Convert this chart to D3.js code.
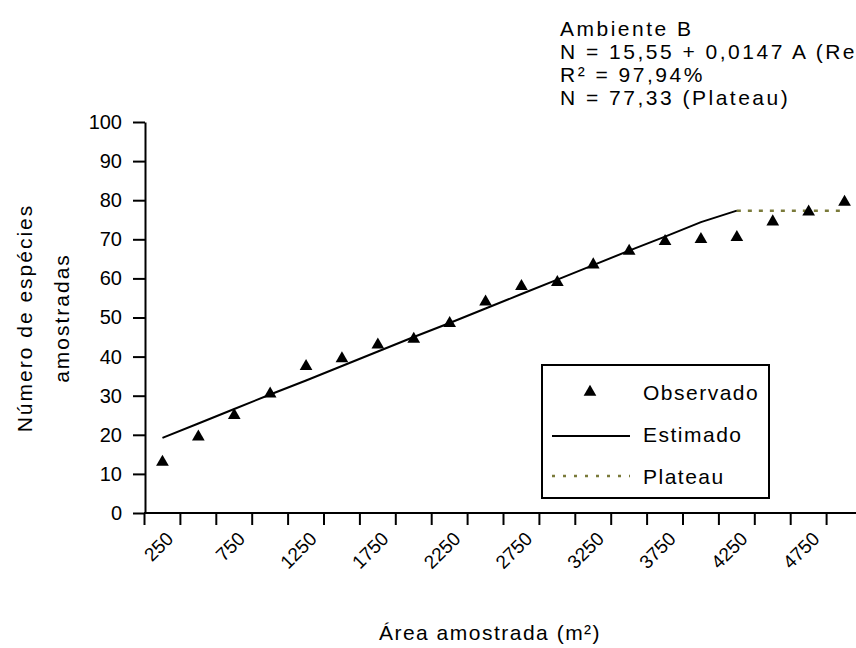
<!DOCTYPE html>
<html lang="pt">
<head>
<meta charset="utf-8">
<script src="https://d3js.org/d3.v7.min.js"></script>
<style>
  body { margin: 0; background: #fff; }
  svg { display: block; }
  text { font-family: "Liberation Sans", Arial, sans-serif; fill: #000; }
</style>
</head>
<body>
<div id="chart"></div>
<script>
// data
var categories = [250, 500, 750, 1000, 1250, 1500, 1750, 2000, 2250, 2500,
                  2750, 3000, 3250, 3500, 3750, 4000, 4250, 4500, 4750, 5000];
var tickLabels = ["250", "750", "1250", "1750", "2250", "2750", "3250", "3750", "4250", "4750"];
var observed = [13, 19.5, 25, 30.5, 37.5, 39.5, 43, 44.5, 48.5, 54,
                58, 59, 63.5, 67, 69.5, 70, 70.5, 74.5, 77, 79.5];
var estimatedCats = [250, 500, 750, 1000, 1250, 1500, 1750, 2000, 2250, 2500,
                     2750, 3000, 3250, 3500, 3750, 4000, 4250];
var estimated = [19.2, 22.9, 26.6, 30.3, 33.9, 37.6, 41.3, 45.0, 48.6, 52.3,
                 56.0, 59.7, 63.4, 67.1, 70.7, 74.4, 77.33];
var plateauCats = [4250, 4500, 4750, 5000];
var plateau = [77.33, 77.33, 77.33, 77.33];
var yTicks = [0, 10, 20, 30, 40, 50, 60, 70, 80, 90, 100];
var notes = ["Ambiente B", "N = 15,55 + 0,0147 A (Reta)", "R\u00b2 = 97,94%", "N = 77,33 (Plateau)"];

var width = 856, height = 648;
var svg = d3.select("#chart").append("svg")
    .attr("width", width)
    .attr("height", height);

var x = d3.scaleBand().domain(categories).range([144.5, 862.5]);
var y = d3.scaleLinear().domain([0, 100]).range([513, 122]);
var cx = function(c) { return x(c) + x.bandwidth() / 2; };

// y axis
var yAxis = svg.append("g")
    .attr("transform", "translate(145,0)")
    .call(d3.axisLeft(y).tickValues(yTicks).tickSize(12).tickSizeOuter(0).tickPadding(11));
yAxis.select(".domain").attr("stroke", "#000").attr("stroke-width", 2);
yAxis.selectAll(".tick line").attr("stroke", "#000").attr("stroke-width", 2);
yAxis.selectAll(".tick text")
    .style("font-family", "'Liberation Sans', Arial, sans-serif")
    .style("font-size", "20px");

// x axis (ticks between categories)
svg.append("line")
    .attr("x1", 144).attr("x2", width)
    .attr("y1", y(0)).attr("y2", y(0))
    .attr("stroke", "#000").attr("stroke-width", 2);
svg.append("g").selectAll("line")
    .data(categories)
    .join("line")
    .attr("x1", function(d) { return x(d); })
    .attr("x2", function(d) { return x(d); })
    .attr("y1", y(0)).attr("y2", y(0) + 12)
    .attr("stroke", "#000").attr("stroke-width", 2);

svg.append("g").selectAll("text")
    .data(tickLabels)
    .join("text")
    .attr("text-anchor", "end")
    .attr("font-size", 19)
    .attr("transform", function(d) {
        return "translate(" + (cx(+d) + 12) + "," + (y(0) + 27) + ") rotate(-45)";
    })
    .text(function(d) { return d; });

// estimated line
svg.append("path")
    .datum(estimatedCats.map(function(c, i) { return [c, estimated[i]]; }))
    .attr("fill", "none")
    .attr("stroke", "#000")
    .attr("stroke-width", 2)
    .attr("d", d3.line().x(function(d) { return cx(d[0]); }).y(function(d) { return y(d[1]); }));

// plateau
svg.append("path")
    .datum(plateauCats.map(function(c, i) { return [c, plateau[i]]; }))
    .attr("fill", "none")
    .attr("stroke", "#7a7a3a")
    .attr("stroke-width", 2.5)
    .attr("stroke-dasharray", "4,7")
    .attr("d", d3.line().x(function(d) { return cx(d[0]); }).y(function(d) { return y(d[1]); }));

// observed points
var tri = d3.symbol().type(d3.symbolTriangle).size(70);
svg.append("g").selectAll("path")
    .data(categories)
    .join("path")
    .attr("d", tri)
    .attr("fill", "#000")
    .attr("transform", function(d, i) { return "translate(" + cx(d) + "," + y(observed[i]) + ")"; });

// axis titles
svg.append("text")
    .attr("x", 490).attr("y", 640)
    .attr("text-anchor", "middle")
    .attr("font-size", 21)
    .attr("letter-spacing", 1.5)
    .text("\u00c1rea amostrada (m\u00b2)");

var yt = svg.append("text")
    .attr("transform", "translate(32,318) rotate(-90)")
    .attr("text-anchor", "middle")
    .attr("font-size", 21)
    .attr("letter-spacing", 2);
yt.append("tspan").attr("x", 0).attr("dy", 0).text("N\u00famero de esp\u00e9cies");
yt.append("tspan").attr("x", 0).attr("dy", 37).text("amostradas");

// model notes
svg.append("g").selectAll("text")
    .data(notes)
    .join("text")
    .attr("x", 560)
    .attr("y", function(d, i) { return 36 + i * 23; })
    .attr("font-size", 21)
    .attr("letter-spacing", 2.5)
    .text(function(d) { return d; });

// legend
var legend = svg.append("g");
legend.append("rect")
    .attr("x", 542).attr("y", 365)
    .attr("width", 227).attr("height", 133)
    .attr("fill", "#fff")
    .attr("stroke", "#000")
    .attr("stroke-width", 2);
legend.append("path")
    .attr("d", tri)
    .attr("fill", "#000")
    .attr("transform", "translate(590,392)");
legend.append("line")
    .attr("x1", 552).attr("x2", 630).attr("y1", 436).attr("y2", 436)
    .attr("stroke", "#000").attr("stroke-width", 2);
legend.append("line")
    .attr("x1", 552).attr("x2", 630).attr("y1", 476).attr("y2", 476)
    .attr("stroke", "#7a7a3a").attr("stroke-width", 2.5)
    .attr("stroke-dasharray", "3,8");
legend.selectAll("text.lab")
    .data(["Observado", "Estimado", "Plateau"])
    .join("text")
    .attr("class", "lab")
    .attr("x", 643)
    .attr("y", function(d, i) { return 400 + i * 42; })
    .attr("font-size", 21)
    .attr("letter-spacing", 1.5)
    .text(function(d) { return d; });
</script>
</body>
</html>
